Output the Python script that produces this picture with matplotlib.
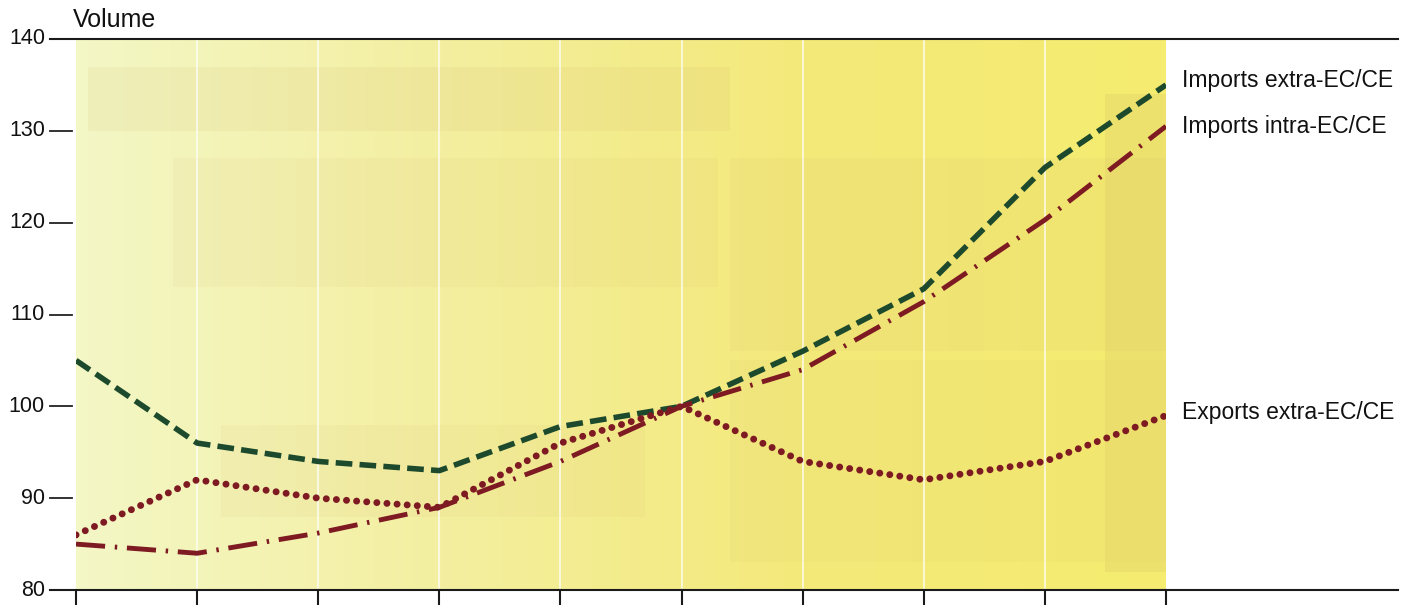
import numpy as np
import matplotlib
matplotlib.use('Agg')
import matplotlib.pyplot as plt
from matplotlib.colors import LinearSegmentedColormap
from matplotlib.lines import Line2D

# data (10 evenly spaced periods)
periods = list(range(10))
imports_extra = [105, 96, 94, 93, 97.8, 100, 106, 112.8, 126, 135]
imports_intra = [85, 84, 86.2, 89, 94, 100, 104, 111.4, 120.3, 130.5]
exports_extra = [86, 92, 90, 89, 96, 100, 94, 92, 94, 99]
labels = ['Imports extra-EC/CE', 'Imports intra-EC/CE', 'Exports extra-EC/CE']
yticks = [80, 90, 100, 110, 120, 130, 140]

green = '#1d4a2c'
red = '#7d1a22'

fig = plt.figure(figsize=(14.15, 6.05), dpi=100)
ax = fig.add_axes([76 / 1415, 1 - 590 / 605, (1166 - 76) / 1415, (590 - 39) / 605])

# yellow background, pale on the left, stronger on the right
cmap = LinearSegmentedColormap.from_list('bg', ['#f4f7c6', '#f3efa0', '#f3e97a', '#f5ec70'])
grad = np.linspace(0, 1, 256).reshape(1, -1)
ax.imshow(grad, aspect='auto', cmap=cmap, extent=[0, 9, 80, 140], zorder=0)

# faint bleed-through patches from the printed page
patches = [(0.1, 130, 5.3, 7, 0.10), (0.8, 113, 4.5, 14, 0.07), (1.2, 88, 3.5, 10, 0.07),
           (5.4, 106, 3.6, 21, 0.08), (5.4, 83, 3.6, 22, 0.06), (8.5, 82, 0.5, 52, 0.14)]
for px, py, pw, ph, al in patches:
    ax.add_patch(plt.Rectangle((px, py), pw, ph, color='#c9a860', alpha=al, lw=0, zorder=0.5))

for x in periods[1:-1]:
    ax.axvline(x, color='white', lw=1.2, alpha=0.8, zorder=1)

ax.plot(periods, imports_extra, color=green, lw=4, ls=(0, (3, 1.3)), zorder=3)
ax.plot(periods, imports_intra, color=red, lw=3.5, ls=(0, (6, 2, 0.5, 2)), zorder=3)
ax.plot(periods, exports_extra, color=red, lw=5, ls=(0, (0.01, 1.45)),
        dash_capstyle='round', zorder=3)

ax.set_xlim(0, 9)
ax.set_ylim(80, 140)
for s in ax.spines.values():
    s.set_visible(False)
ax.set_xticks([])
ax.set_yticks([])

# y ticks and labels drawn to the left of the plot area
for v in yticks:
    yf = 1 - (39 + (140 - v) * (551 / 60)) / 605
    fig.add_artist(Line2D([50 / 1415, 72 / 1415], [yf, yf], color='#222222', lw=1.3))
    fig.text(45 / 1415, yf, str(v), ha='right', va='center', fontsize=15.5,
             family='Liberation Sans', color='#111111')

# horizontal frame lines across the whole width
for yy in [39, 590]:
    yf = 1 - yy / 605
    fig.add_artist(Line2D([50 / 1415, 1398 / 1415], [yf, yf], color='#1a1a1a', lw=1.5))

# small downward ticks at each period
for x in periods:
    xf = (76 + x * (1090 / 9)) / 1415
    fig.add_artist(Line2D([xf, xf], [1 - 590 / 605, 1 - 605 / 605], color='#1a1a1a', lw=1.5))

fig.text(73 / 1415, 1 - 20 / 605, 'Volume', ha='left', va='center', fontsize=18,
         family='Liberation Sans', color='#111111')

label_y = [81, 127, 412]
for lab, yy in zip(labels, label_y):
    fig.text(1182 / 1415, 1 - yy / 605, lab, ha='left', va='center', fontsize=16.5,
             family='Liberation Sans', color='#111111')

fig.savefig('out.png', dpi=100, facecolor='white')
